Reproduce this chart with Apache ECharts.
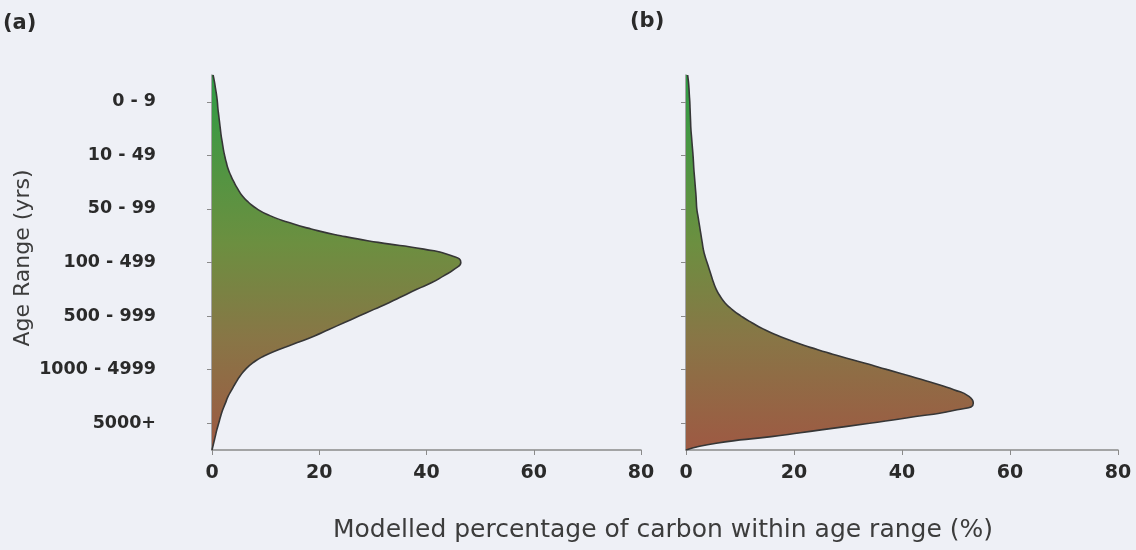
<!DOCTYPE html>
<html><head><meta charset="utf-8">
<script src="https://cdn.jsdelivr.net/npm/echarts@6/dist/echarts.min.js"></script>
<style>html,body{margin:0;padding:0;background:#eef0f6}#c{width:1136px;height:550px}</style>
</head><body><div id="c"></div>
<script>
// Age-range categories (top to bottom)
const ageRanges = ['0 - 9', '10 - 49', '50 - 99', '100 - 499', '500 - 999', '1000 - 4999', '5000+'];
// x tick values
const xTicks = [0, 20, 40, 60, 80];
// sample positions along the age-range axis (in category units, 0 = top edge, 7 = bottom edge)
const positions = ['0','0.125','0.25','0.375','0.5','0.625','0.75','0.875',
  '1','1.125','1.25','1.375','1.5','1.625','1.75','1.875',
  '2','2.125','2.25','2.375','2.5','2.625','2.75','2.875',
  '3','3.125','3.25','3.375','3.5','3.625','3.75','3.875',
  '4','4.125','4.25','4.375','4.5','4.625','4.75','4.875',
  '5','5.125','5.25','5.375','5.5','5.625','5.75','5.875',
  '6','6.125','6.25','6.375','6.5','6.625','6.75','6.875','7'];
// (a) modelled percentage of carbon (%)
const percentA = [0.2,0.45,0.65,0.85,1.0,1.1,1.25,1.4,
  1.55,1.7,1.9,2.1,2.35,2.65,3.0,3.5,
  4.1,4.8,5.6,6.8,8.4,10.8,14.2,18.5,
  24.0,31.0,39.5,44.7,46.4,45.2,43.2,41.0,
  38.2,35.6,33.0,30.2,27.4,24.6,21.8,19.0,
  15.8,12.5,9.6,7.6,6.2,5.2,4.4,3.7,
  3.0,2.5,2.0,1.6,1.25,0.9,0.6,0.3,0];
// (b) modelled percentage of carbon (%)
const percentB = [0.3,0.45,0.55,0.62,0.7,0.75,0.8,0.85,
  0.9,1.0,1.1,1.2,1.3,1.38,1.45,1.55,
  1.65,1.75,1.85,1.92,2.0,2.2,2.4,2.6,
  2.8,3.0,3.2,3.5,3.9,4.3,4.7,5.1,
  5.6,6.3,7.2,8.5,10.2,12.2,14.5,17.3,
  20.5,24.3,28.5,33.0,37.3,41.6,45.8,49.6,
  52.4,53.2,50.2,42.5,34.0,25.0,15.8,5.6,0];

const FONT = 'DejaVu Sans';
const axisGray = '#8a8a8a';

function xAxisFor(gi) {
  return {
    type: 'value', gridIndex: gi, min: xTicks[0], max: xTicks[xTicks.length - 1], interval: 20,
    axisLine: { show: true, lineStyle: { color: axisGray, width: 1.5 } },
    axisTick: { show: true, length: 5, lineStyle: { color: axisGray } },
    axisLabel: { color: '#2a2a2a', fontFamily: FONT, fontWeight: 'bold', fontSize: 19, margin: 14 },
    splitLine: { show: false }
  };
}
function catAxisFor(gi, showLabels) {
  return {
    type: 'category', gridIndex: gi, data: ageRanges, inverse: true, boundaryGap: true,
    axisLine: { show: true, lineStyle: { color: axisGray, width: 1.5 } },
    axisTick: { show: true, alignWithLabel: true, length: 5, lineStyle: { color: axisGray } },
    axisLabel: { show: showLabels, color: '#2a2a2a', fontFamily: FONT, fontWeight: 'bold', fontSize: 17.5, margin: 56 },
    splitLine: { show: false }
  };
}
function posAxisFor(gi) {
  return { type: 'category', gridIndex: gi, data: positions, inverse: true, boundaryGap: false, show: false };
}
const grad = () => new echarts.graphic.LinearGradient(0, 0, 0, 1, [
  { offset: 0, color: '#2f9c45' },
  { offset: 0.45, color: '#6c8f40' },
  { offset: 0.7, color: '#887646' },
  { offset: 1, color: '#9e5943' }
]);
function curve(xi, yi, vals) {
  return {
    type: 'line', xAxisIndex: xi, yAxisIndex: yi, data: vals, smooth: 0.6,
    showSymbol: false, symbol: 'none',
    lineStyle: { color: '#363636', width: 1.6 },
    areaStyle: { color: grad(), opacity: 1 },
    z: 1
  };
}

const chart = echarts.init(document.getElementById('c'), null, { renderer: 'canvas' });
chart.setOption({
  backgroundColor: '#eef0f6',
  animation: false,
  grid: [
    { left: 212, top: 75, width: 429, height: 375 },
    { left: 686, top: 75, width: 432, height: 375 }
  ],
  xAxis: [xAxisFor(0), xAxisFor(1)],
  yAxis: [catAxisFor(0, true), posAxisFor(0), catAxisFor(1, false), posAxisFor(1)],
  series: [curve(0, 1, percentA), curve(1, 3, percentB)],
  graphic: [
    { type: 'text', left: 3, top: 13, style: { text: '(a)', fontFamily: FONT, fontWeight: 'bold', fontSize: 21, fill: '#2a2a2a' } },
    { type: 'text', left: 630, top: 11, style: { text: '(b)', fontFamily: FONT, fontWeight: 'bold', fontSize: 21, fill: '#2a2a2a' } },
    { type: 'text', x: 663, y: 530, style: { text: 'Modelled percentage of carbon within age range (%)', fontFamily: FONT, fontSize: 25, fill: '#3c3c3c', align: 'center', verticalAlign: 'middle' } },
    { type: 'text', x: 23, y: 258, rotation: Math.PI / 2, style: { text: 'Age Range (yrs)', fontFamily: FONT, fontSize: 22, fill: '#3c3c3c', align: 'center', verticalAlign: 'middle' } }
  ]
});
</script>
</body></html>
